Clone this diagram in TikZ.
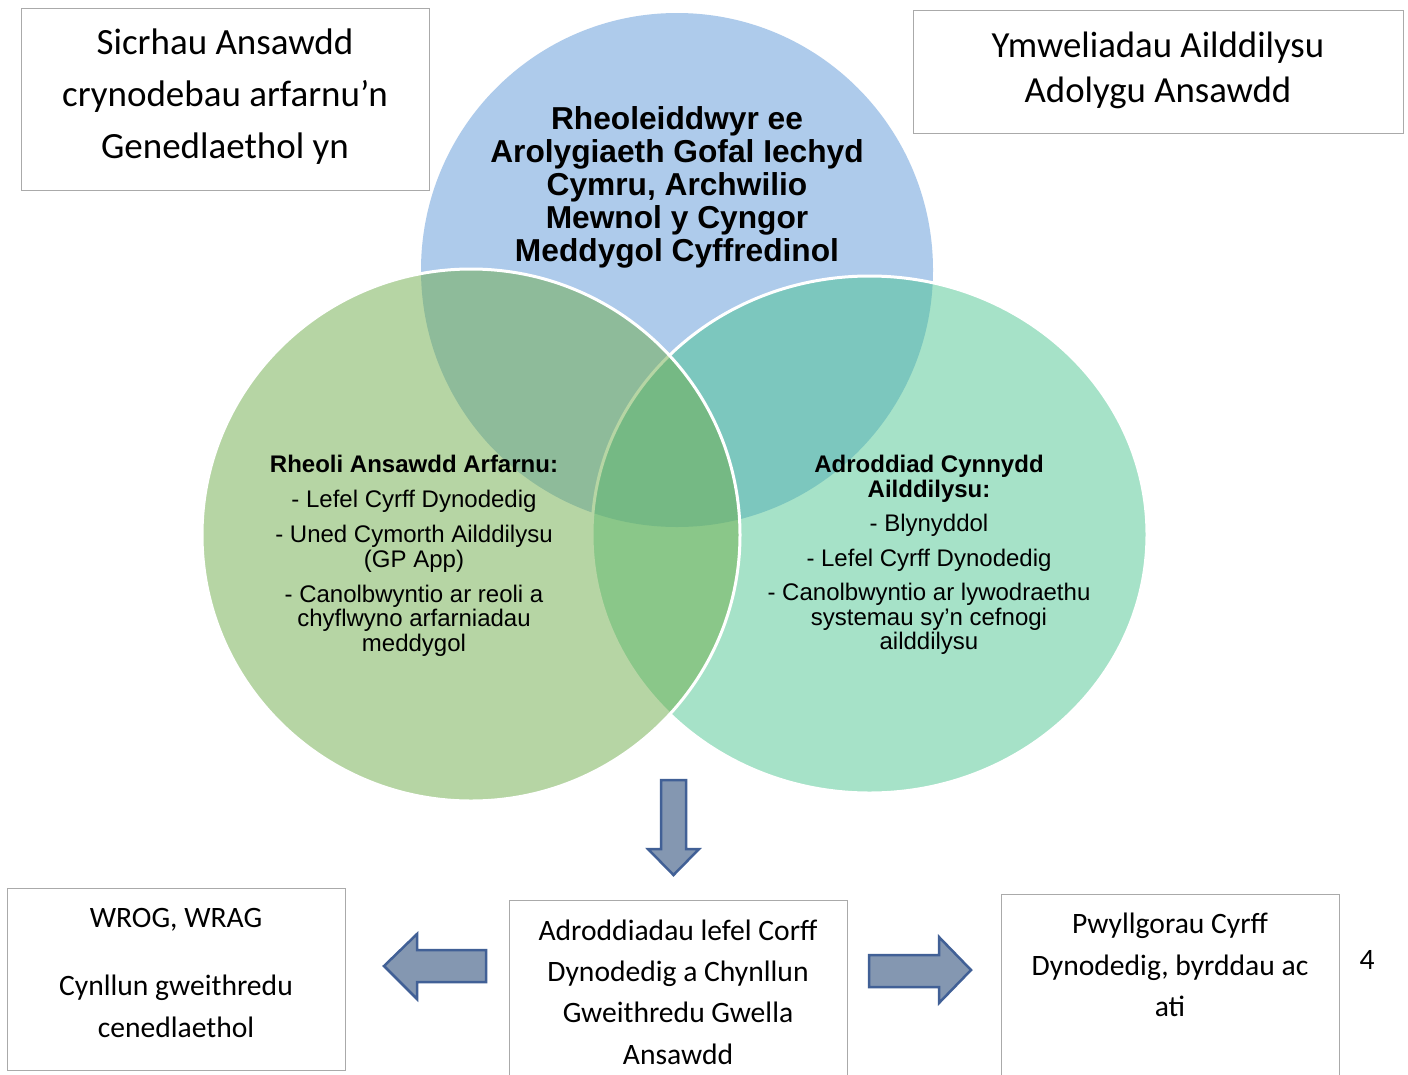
\documentclass[tikz,border=0pt]{standalone}
\usepackage{fontspec}
\setmainfont{Carlito}
\newfontfamily\arialfont{Liberation Sans}
\definecolor{bluec}{RGB}{174,203,235}
\definecolor{rightc}{RGB}{70,195,142}
\definecolor{leftc}{RGB}{111,173,75}
\definecolor{boxgray}{RGB}{170,170,170}
\definecolor{arrowfill}{RGB}{132,151,177}
\definecolor{arrowline}{RGB}{65,96,150}
\tikzset{
  framebox/.style={draw=boxgray, line width=1.3pt, inner sep=0pt, anchor=north west},
  bigarrow/.style={fill=arrowfill, draw=arrowline, line width=2.5pt, line join=miter},
  venntxt/.style={align=center, inner sep=0pt, font=\arialfont\fontsize{24}{24.5}\selectfont},
  headtxt/.style={align=center, inner sep=0pt, font=\arialfont\bfseries\fontsize{31.7}{33}\selectfont},
  toptxt/.style={align=center, inner sep=0pt},
  bottxt/.style={align=center, inner sep=0pt, font=\fontsize{29.6}{41.3}\selectfont},
}
\begin{document}
\begin{tikzpicture}[x=1pt,y=-1pt]
\useasboundingbox (0,0) rectangle (1408,1074);
\fill[white] (0,0) rectangle (1408,1074);
\clip (0,0) rectangle (1408,1074);

% Venn circles
\fill[bluec] (677,270) ellipse [x radius=256, y radius=257];
\fill[rightc, fill opacity=0.48] (869.5,534.5) ellipse [x radius=277.5, y radius=258.5];
\draw[white, line width=3pt] (869.5,534.5) ellipse [x radius=277.5, y radius=258.5];
\fill[leftc, fill opacity=0.5] (471,535) ellipse [x radius=269, y radius=266];
\draw[white, line width=3pt] (471,535) ellipse [x radius=269, y radius=266];

% Venn texts
\node[headtxt] (top) at (677,187) {Rheoleiddwyr ee\\Arolygiaeth Gofal Iechyd\\Cymru, Archwilio\\Mewnol y Cyngor\\Meddygol Cyffredinol};
\node[venntxt] (lefttxt) at (414,556) {{\bfseries Rheoli Ansawdd Arfarnu:}\\[10.5pt]- Lefel Cyrff Dynodedig\\[10.5pt]- Uned Cymorth Ailddilysu\\(GP App)\\[10.5pt]- Canolbwyntio ar reoli a\\chyflwyno arfarniadau\\meddygol};
\node[venntxt] (righttxt) at (929,555) {{\bfseries Adroddiad Cynnydd}\\{\bfseries Ailddilysu:}\\[10pt]- Blynyddol\\[10pt]- Lefel Cyrff Dynodedig\\[10pt]- Canolbwyntio ar lywodraethu\\systemau sy’n cefnogi\\ailddilysu};

% top boxes
\node[framebox, minimum width=408pt, minimum height=182pt] (tlbox) at (21,8) {};
\node[toptxt, font=\fontsize{37}{52}\selectfont] (tltxt) at (225,97) {Sicrhau Ansawdd\\crynodebau arfarnu’n\\Genedlaethol yn};
\node[framebox, minimum width=490pt, minimum height=123pt] (trbox) at (913,10) {};
\node[toptxt, font=\fontsize{36.8}{45}\selectfont] (trtxt) at (1158,70) {Ymweliadau Ailddilysu\\Adolygu Ansawdd};

% bottom boxes
\node[framebox, minimum width=338pt, minimum height=182pt] (blbox) at (7,888) {};
\node[bottxt, font=\fontsize{29.6}{42}\selectfont] (bltxt) at (176,973) {WROG, WRAG\\[26pt]Cynllun gweithredu\\cenedlaethol};
\node[framebox, minimum width=338pt, minimum height=190pt] (bcbox) at (509,900) {};
\node[bottxt] (bctxt) at (678,992) {Adroddiadau lefel Corff\\Dynodedig a Chynllun\\Gweithredu Gwella\\Ansawdd};
\node[framebox, minimum width=338pt, minimum height=190pt] (brbox) at (1001,894) {};
\node[bottxt] (brtxt) at (1170,965) {Pwyllgorau Cyrff\\Dynodedig, byrddau ac\\ati};
\node[inner sep=0pt, font=\fontsize{29.6}{35}\selectfont] (pagenum) at (1367,960) {4};

% block arrows
\draw[bigarrow] (661,780) -- (686,780) -- (686,849) -- (699,849) -- (673.5,875) -- (648,849) -- (661,849) -- cycle;
\draw[bigarrow] (486,950) -- (417,950) -- (417,934) -- (384,966) -- (417,999) -- (417,982) -- (486,982) -- cycle;
\draw[bigarrow] (869,955) -- (939,955) -- (939,937) -- (971,970) -- (939,1003) -- (939,987) -- (869,987) -- cycle;
\end{tikzpicture}
\end{document}
